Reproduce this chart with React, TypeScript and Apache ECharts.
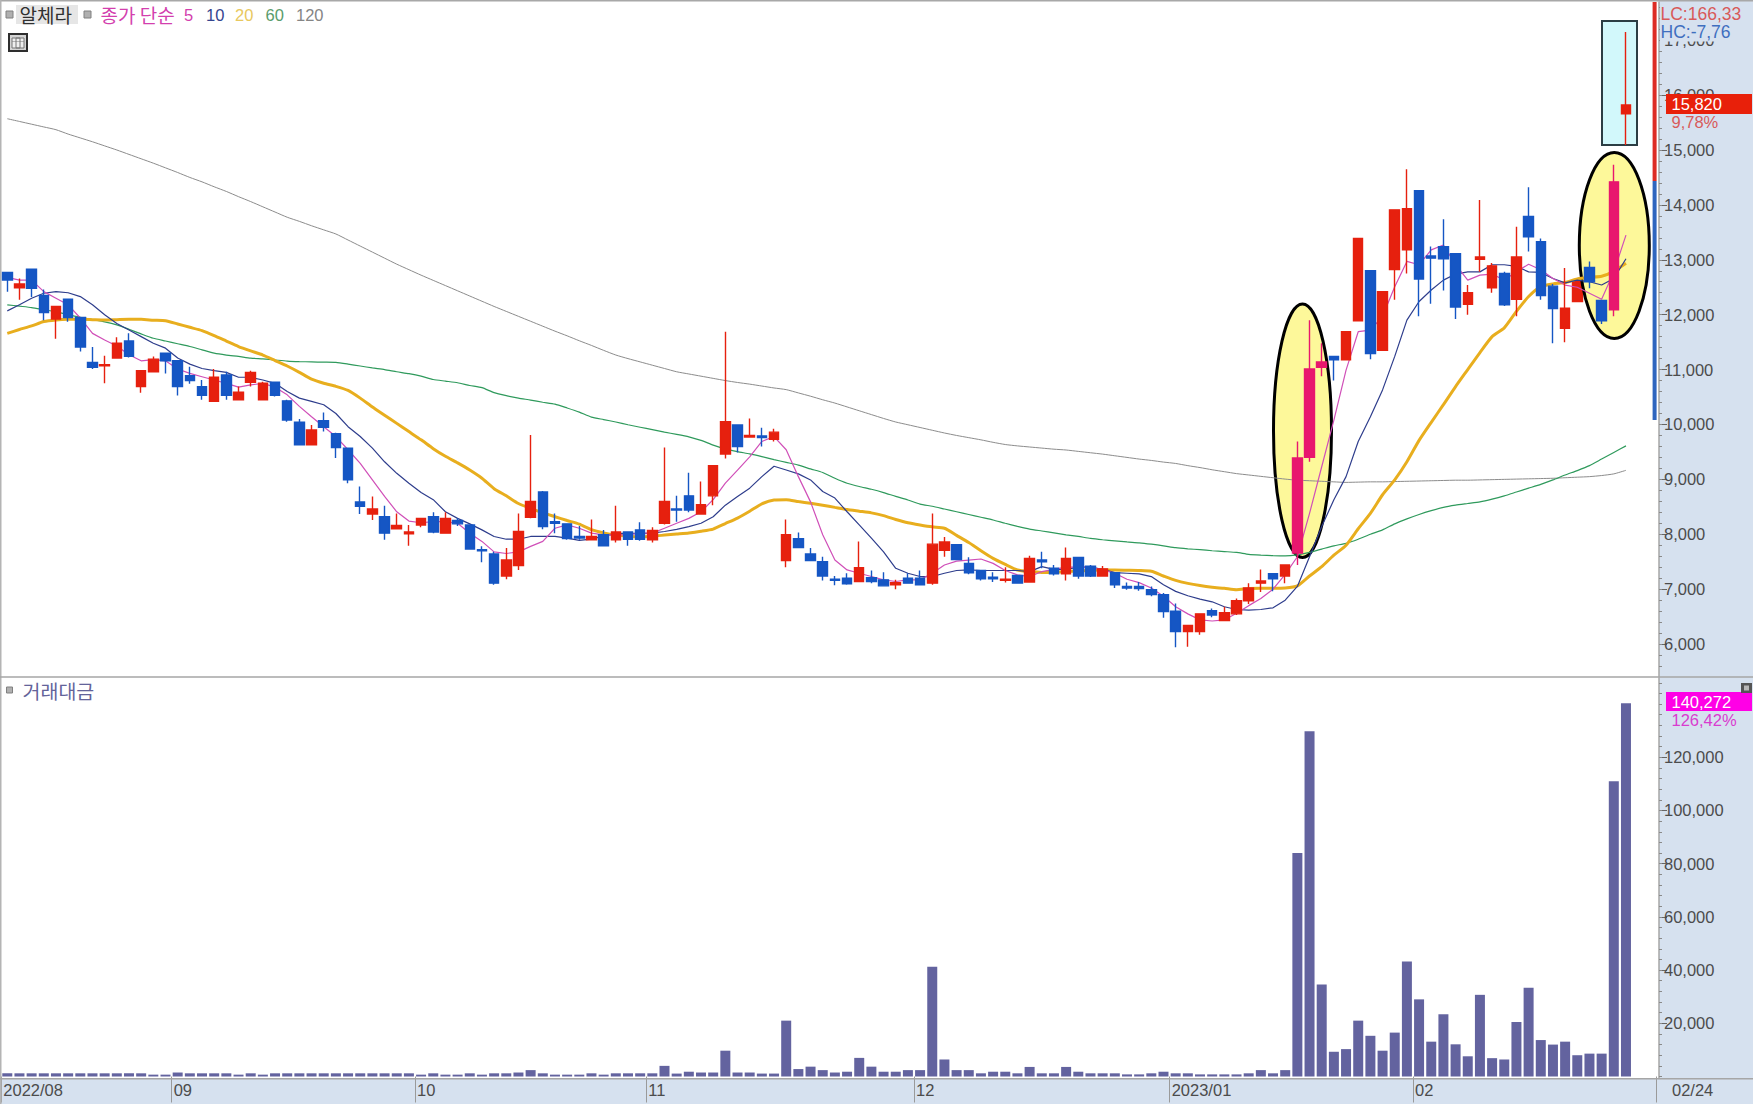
import React, { useEffect, useRef } from "react";
import * as echarts from "echarts";

const ohlc: number[][] = [
[12770,12630,12420,12770],[12490,12560,12270,12660],[12830,12480,12320,12830],[12350,12040,11900,12460],[11920,12150,11560,12150],
[12280,11950,11870,12280],[11950,11410,11330,11950],[11130,11040,11010,11410],[11070,11090,10750,11250],[11210,11480,11210,11590],
[11520,11240,11220,11660],[10690,10980,10580,10980],[10960,11190,10960,11240],[11300,11160,10930,11300],[11160,10690,10530,11160],
[10890,10800,10740,11050],[10690,10530,10450,10810],[10420,10860,10420,11010],[10900,10530,10450,10960],[10450,10590,10450,10690],
[10770,10950,10690,10980],[10450,10750,10450,10780],[10770,10530,10510,10780],[10430,10080,10050,10450],[10040,9630,9630,10100],
[9630,9900,9630,9990],[10070,9950,9870,10220],[9830,9580,9390,9850],[9570,8990,8930,9570],[8590,8510,8370,8870],
[8370,8460,8260,8690],[8320,8020,7900,8520],[8100,8160,8090,8380],[8010,8040,7790,8170],[8170,8290,8130,8290],
[8320,8040,8020,8400],[8020,8290,8020,8400],[8250,8190,8150,8290],[8170,7730,7720,8170],[7720,7700,7490,7780],
[7640,7110,7080,7680],[7240,7530,7180,7750],[7430,8050,7350,8380],[8310,8600,8290,9810],[8770,8140,8090,8790],
[8230,8200,8020,8380],[8190,7920,7900,8190],[7960,7930,7900,8150],[7900,7960,7900,8270],[7990,7790,7780,8080],
[7900,8040,7850,8520],[8040,7910,7790,8040],[8080,7910,7880,8220],[7900,8070,7850,8130],[8200,8600,8180,9580],
[8460,8440,8230,8700],[8700,8440,8400,9120],[8370,8540,8370,8960],[8700,9250,8530,9250],[9460,10050,9380,11690],
[9990,9600,9490,9990],[9770,9800,9770,10110],[9790,9760,9600,9940],[9730,9860,9690,9920],[7520,7990,7400,8270],
[7920,7760,7760,8030],[7640,7520,7520,7750],[7500,7240,7160,7590],[7180,7160,7070,7240],[7200,7100,7080,7290],
[7140,7390,7140,7870],[7210,7140,7110,7340],[7170,7060,7050,7310],[7080,7120,7000,7170],[7200,7110,7100,7290],
[7200,7080,7070,7340],[7110,7820,7080,8380],[7710,7860,7590,7950],[7810,7540,7540,7810],[7470,7300,7270,7580],
[7340,7190,7160,7340],[7220,7190,7130,7310],[7160,7180,7120,7400],[7250,7110,7110,7250],[7130,7560,7120,7610],
[7530,7500,7380,7680],[7380,7280,7250,7440],[7280,7560,7160,7760],[7580,7240,7190,7580],[7420,7240,7220,7440],
[7240,7370,7240,7420],[7300,7080,7020,7300],[7050,7020,6990,7120],[7050,7010,6970,7130],[6990,6900,6870,7050],
[6900,6590,6480,6930],[6600,6230,5940,6740],[6230,6340,5950,6340],[6230,6550,6170,6550],[6610,6530,6490,6650],
[6430,6570,6430,6680],[6550,6790,6530,6830],[6790,7020,6730,7110],[7110,7150,6950,7360],[7280,7190,6960,7280],
[7240,7440,7110,7440],[7660,9390,7440,9690],[9400,11010,9320,11900],[11040,11140,10880,11480],[11240,11180,10800,11240],
[11180,11690,11180,11690],[11890,13390,11890,13390],[12800,11290,11190,12800],[11350,12420,11350,12420],[12820,13910,12270,13910],
[13180,13930,12750,14650],[14260,12650,11970,14260],[13070,13030,12200,13240],[13240,13020,12440,13740],[13110,12140,11920,13110],
[12190,12400,12000,12540],[13010,13050,12780,14090],[12490,12890,12400,12940],[12750,12180,12160,12780],[12280,13050,11970,13600],
[13790,13420,13150,14320],[13330,12350,12270,13390],[12520,12110,11480,12560],[11750,12120,11500,12850],[12240,12600,12240,12600],
[12860,12600,12480,12970],[12260,11890,11830,12270],[12090,14420,11970,14730],[15660,15820,15090,17150],
];

const ma5 = [
12680,12630,12630,12420,12300,12180,11940,11660,11540,11430,
11270,11160,11180,11160,11010,10930,10870,10810,10750,10680,
10720,10750,10680,10540,10330,10140,9960,9780,9540,9290,
8990,8690,8410,8240,8210,8230,8230,8200,8020,7870,
7680,7650,7680,7780,7870,8110,8170,8110,8020,7990,
7990,7990,8020,8020,8110,8200,8290,8410,8630,8930,
9170,9410,9690,9780,9540,9050,8590,7990,7530,7350,
7290,7230,7170,7140,7170,7170,7290,7440,7510,7530,
7550,7470,7340,7260,7230,7320,7360,7400,7400,7400,
7350,7290,7180,7120,7020,6870,6680,6550,6440,6420,
6440,6560,6700,6830,7000,7270,7590,8380,9230,10080,
10990,11690,11720,11970,12510,12970,12910,13180,13270,12910,
12630,12720,12740,12630,12780,12920,12820,12660,12540,12500,
12390,12280,12780,13450,
];
const ma10 = [
12070,12180,12300,12390,12420,12400,12330,12180,12000,11840,
11720,11600,11480,11390,11210,11100,11020,10980,10950,10860,
10860,10810,10750,10600,10480,10420,10360,10200,9960,9780,
9570,9320,9110,8930,8760,8630,8410,8290,8190,8080,
7960,7910,7910,7960,7960,7960,7930,7890,7910,7970,
8010,8020,8010,8020,8050,8090,8140,8200,8320,8530,
8690,8840,9050,9240,9170,9100,8990,8780,8660,8410,
8170,7930,7680,7380,7290,7230,7230,7290,7340,7350,
7340,7340,7340,7340,7320,7410,7360,7360,7400,7400,
7360,7300,7290,7280,7230,7080,6960,6880,6820,6770,
6680,6630,6620,6630,6660,6800,7050,7590,8140,8630,
9050,9690,10140,10630,11240,11900,12240,12450,12630,12740,
12780,12780,12910,12910,12880,12780,12770,12660,12580,12630,
12600,12540,12660,13020,
];
const ma20 = [
11660,11730,11795,11875,11905,11915,11915,11910,11905,11910,
11915,11915,11900,11890,11830,11770,11710,11620,11520,11420,
11340,11265,11165,11065,10950,10825,10750,10695,10620,10480,
10320,10170,10020,9870,9720,9560,9420,9300,9170,9020,
8830,8700,8560,8470,8390,8320,8250,8185,8085,8025,
7985,7965,7955,7965,7985,8005,8025,8055,8095,8195,
8295,8420,8555,8625,8630,8595,8565,8530,8490,8450,
8420,8390,8340,8270,8210,8170,8135,8110,7980,7850,
7700,7560,7450,7350,7320,7305,7310,7320,7330,7345,
7350,7350,7345,7340,7325,7240,7160,7105,7065,7035,
7015,6990,7010,7015,7015,7020,7060,7240,7410,7620,
7800,8100,8380,8720,8990,9320,9710,10040,10360,10690,
11000,11310,11600,11760,12060,12330,12510,12560,12585,12650,
12680,12700,12790,12935,
];
const ma60 = [
12180,12155,12130,12090,12050,12000,11950,11910,11870,11815,
11735,11650,11570,11520,11470,11420,11360,11300,11265,11240,
11210,11195,11175,11155,11145,11140,11135,11130,11100,11065,
11030,11000,10960,10925,10880,10820,10790,10760,10710,10670,
10580,10525,10480,10445,10405,10370,10300,10225,10135,10090,
10045,9995,9950,9905,9860,9820,9775,9710,9625,9555,
9505,9465,9415,9360,9310,9260,9190,9125,9020,8930,
8870,8820,8760,8690,8625,8550,8510,8460,8410,8360,
8310,8260,8200,8145,8095,8060,8025,7990,7960,7925,
7900,7880,7860,7845,7820,7790,7755,7735,7720,7700,
7685,7670,7635,7620,7610,7605,7625,7670,7730,7790,
7835,7910,8000,8080,8190,8280,8360,8430,8490,8530,
8560,8590,8640,8700,8770,8840,8910,8990,9080,9160,
9250,9370,9490,9610,
];
const ma120 = [
15570,15520,15470,15420,15370,15290,15220,15150,15075,15000,
14920,14840,14760,14675,14590,14500,14420,14330,14245,14150,
14060,13965,13870,13775,13700,13620,13545,13470,13360,13250,
13140,13030,12920,12820,12720,12625,12530,12435,12340,12245,
12150,12060,11970,11880,11790,11700,11615,11525,11440,11350,
11265,11200,11140,11080,11020,10960,10920,10880,10840,10800,
10765,10735,10700,10665,10635,10575,10515,10450,10390,10320,
10250,10180,10110,10045,9995,9945,9895,9845,9800,9760,
9720,9675,9635,9610,9590,9570,9550,9535,9510,9485,
9460,9430,9400,9370,9345,9315,9290,9250,9215,9175,
9140,9105,9080,9055,9030,9005,8985,8975,8965,8955,
8945,8950,8955,8955,8960,8965,8970,8975,8980,8985,
8985,8990,8995,9000,9005,9010,9015,9020,9030,9040,
9050,9070,9100,9165,
];
const turnover = [
1200,1200,1200,1200,1200,1200,1200,1200,1200,1200,
1200,1200,700,700,1500,1200,1200,1200,1200,700,
1200,700,1200,1200,1200,1200,1200,1200,1200,1200,
1200,1200,1200,1200,700,1200,700,700,1200,700,
1200,1200,1500,2400,1200,700,700,700,1200,700,
1200,1200,1200,1200,4000,1100,1800,1500,1500,9700,
1500,1500,1100,1100,21000,2800,3700,2400,1500,1800,
7000,3700,1800,1800,2400,2400,41300,6400,2400,2400,
1200,1800,1800,1200,3600,1200,1200,3600,1800,1200,
1200,1200,800,800,1200,1800,1200,1200,800,800,
800,800,1200,2400,1200,2400,84000,129800,34600,9300,
10300,21000,15300,9700,16500,43200,29000,13100,23400,12100,
7600,30700,6900,6400,20500,33400,13700,12000,13100,8000,
8600,8600,111000,140272,
];

const monthLabels = ["2022/08", "09", "10", "11", "12", "2023/01", "02"];
const monthStart = [0, 14, 34, 53, 75, 96, 116];
const pinkCandles = [106, 107, 108, 132];
const underEllipseCandles = [129];
const priceTicks = [6000, 7000, 8000, 9000, 10000, 11000, 12000, 13000, 14000, 15000, 16000, 17000];
const turnoverTicks = [20000, 40000, 60000, 80000, 100000, 120000];

const SLOTS = 136;
const range = (a: number, b: number, s: number) => {
  const out: number[] = [];
  for (let v = a; v <= b; v += s) out.push(v);
  return out;
};
const fmt = (v: number) => Number(v).toLocaleString("en-US");
const NUM = "'Liberation Sans',sans-serif";
const KR = "'Noto Sans CJK KR',sans-serif";
const RED = "#e6200e";
const BLUE = "#1556c4";
const PINK = "#e8176e";
const BAND = "#d6e1ef";
const LINE = "#a6a6a6";

const txt = (text: string, x: number, y: number, fill: string, font: string, z = 20, align = "left") => ({
  type: "text",
  x,
  y,
  z,
  silent: true,
  style: { text, fill, font, textAlign: align, textVerticalAlign: "middle" },
});
const box = (x: number, y: number, width: number, height: number, fill: string, z = 20, stroke?: string, lineWidth = 0) => ({
  type: "rect",
  z,
  silent: true,
  shape: { x, y, width, height },
  style: { fill, stroke, lineWidth },
});
const ellipse = (cx: number, cy: number, rx: number, ry: number) => ({
  type: "ellipse",
  z: 2,
  silent: true,
  shape: { cx, cy, rx, ry },
  style: { fill: "#fdf89a", stroke: "#000", lineWidth: 3 },
});

export default function App() {
  const ref = useRef<HTMLDivElement>(null);
  useEffect(() => {
    document.body.style.margin = "0";
    const chart = echarts.init(ref.current!, undefined, { renderer: "svg" });
    const cats = Array.from({ length: SLOTS }, (_, i) => String(i));
    const mainData: any[] = ohlc.map((r, i) =>
      underEllipseCandles.includes(i)
        ? "-"
        : pinkCandles.includes(i)
        ? { value: r, itemStyle: { color: PINK, color0: PINK, borderColor: PINK, borderColor0: PINK } }
        : r
    );
    const underData: any[] = ohlc.map((r, i) => (underEllipseCandles.includes(i) ? r : "-"));
    const candleStyle = { color: RED, color0: BLUE, borderColor: RED, borderColor0: BLUE, borderWidth: 1.4 };
    const ma = (name: string, data: number[], color: string, width: number, smooth: number) => ({
      name,
      type: "line",
      data,
      xAxisIndex: 0,
      yAxisIndex: 0,
      z: 3,
      symbol: "none",
      smooth,
      lineStyle: { color, width },
    });
    const hiddenCat = {
      type: "category",
      data: cats,
      boundaryGap: true,
      axisLine: { show: false },
      axisTick: { show: false },
      axisLabel: { show: false },
      splitLine: { show: false },
    };
    const labelStyle = { color: "#4c4c4c", fontFamily: NUM, fontSize: 16.5, margin: 5, padding: [0, 0, 6, 0] };
    const minor = { show: true, length: 3, lineStyle: { color: "#8a8a8a" } };
    const major = { show: true, length: 8, lineStyle: { color: "#666" } };
    chart.setOption({
      animation: false,
      backgroundColor: "#fff",
      grid: [
        { left: 1.2, top: 2, width: 1655.2, height: 675 },
        { left: 1.2, top: 678, width: 1655.2, height: 400.5 },
      ],
      xAxis: [
        { ...hiddenCat, gridIndex: 0 },
        {
          ...hiddenCat,
          gridIndex: 1,
          axisLabel: {
            show: true,
            interval: (i: number) => monthStart.includes(i),
            formatter: (_: string, i: number) => monthLabels[monthStart.indexOf(i)] ?? "",
            color: "#4c4c4c",
            fontFamily: NUM,
            fontSize: 16.5,
            align: "left",
            margin: 3,
            padding: [0, 0, 0, -4],
          },
          axisTick: {
            show: true,
            length: 26,
            interval: (i: number) => monthStart.includes(i),
            lineStyle: { color: "#9a9a9a" },
          },
        },
      ],
      yAxis: [
        {
          type: "value",
          gridIndex: 0,
          position: "right",
          offset: 2.6,
          min: 5400,
          max: 17696,
          axisLine: { show: true, onZero: false, lineStyle: { color: LINE, width: 1.5 } },
          axisTick: { ...major, customValues: priceTicks },
          axisLabel: { ...labelStyle, customValues: priceTicks, formatter: fmt },
          splitLine: { show: false },
        },
        {
          type: "value",
          gridIndex: 0,
          position: "right",
          offset: 2.6,
          min: 5400,
          max: 17696,
          axisLine: { show: false },
          axisTick: { ...minor, customValues: range(5600, 17600, 200) },
          axisLabel: { show: false },
          splitLine: { show: false },
        },
        {
          type: "value",
          gridIndex: 1,
          position: "right",
          offset: 2.6,
          min: -750,
          max: 149800,
          axisLine: { show: true, onZero: false, lineStyle: { color: LINE, width: 1.5 } },
          axisTick: { ...major, customValues: turnoverTicks },
          axisLabel: { ...labelStyle, customValues: turnoverTicks, formatter: fmt },
          splitLine: { show: false },
        },
        {
          type: "value",
          gridIndex: 1,
          position: "right",
          offset: 2.6,
          min: -750,
          max: 149800,
          axisLine: { show: false },
          axisTick: { ...minor, customValues: range(0, 148000, 4000) },
          axisLabel: { show: false },
          splitLine: { show: false },
        },
      ],
      series: [
        { name: "under", type: "candlestick", z: 1, data: underData, barWidth: 10, itemStyle: candleStyle, xAxisIndex: 0, yAxisIndex: 0 },
        ma("120", ma120, "#8c8c8c", 1, 0.2),
        ma("60", ma60, "#2f9a5c", 1.2, 0.2),
        ma("20", ma20, "#e8ae1e", 3, 0.2),
        ma("10", ma10, "#2e3d8c", 1.2, 0),
        ma("5", ma5, "#d04fb8", 1.2, 0),
        { name: "price", type: "candlestick", z: 4, data: mainData, barWidth: 10, itemStyle: candleStyle, xAxisIndex: 0, yAxisIndex: 0 },
        {
          name: "거래대금",
          type: "bar",
          data: turnover,
          xAxisIndex: 1,
          yAxisIndex: 2,
          barWidth: 10,
          itemStyle: { color: "#63639f" },
        },
      ],
      graphic: {
        elements: [
          box(1659, 0, 94, 1104, BAND, -1),
          box(0, 1079, 1753, 25, BAND, -1),
          box(0, 0, 1753, 1.5, "#a8a8a8", 1),
          box(0, 0, 1.5, 1104, "#b4b4b4", 1),
          box(0, 676.2, 1753, 1.6, LINE, 1),
          box(0, 1078, 1753, 1.6, LINE, 1),
          box(1602, 21, 35, 124, "#d2f8fb", 2, "#2c3e44", 2),
          ellipse(1302.5, 430.7, 29, 126.7),
          ellipse(1614.3, 245.5, 35, 93),
          box(1652.6, 2, 4, 179, "#dd2c24", 5),
          box(1652.6, 181, 4, 239, "#2f66bf", 5),
          // top-right readouts
          box(1660, 2, 93, 39.5, BAND, 20),
          txt("LC:166,33", 1660.5, 14, "#d85a5a", `17.5px ${NUM}`, 21),
          txt("HC:-7,76", 1660.5, 32, "#3f6fbf", `17.5px ${NUM}`, 21),
          box(1666, 94, 86, 20, "#e8200a", 20),
          txt("15,820", 1671.5, 104, "#ffffff", `16.5px ${NUM}`, 21),
          txt("9,78%", 1671.5, 122, "#d85a5a", `16.5px ${NUM}`, 21),
          box(1666, 692, 86, 19, "#ff00e6", 20),
          txt("140,272", 1671.5, 701.5, "#ffffff", `16.5px ${NUM}`, 21),
          txt("126,42%", 1671.5, 719.5, "#d93cd0", `16.5px ${NUM}`, 21),
          box(1741, 683, 11, 10, "#555", 20),
          box(1744, 685.5, 5, 5, "#b8b8b8", 21),
          txt("02/24", 1672, 1090, "#4c4c4c", `16.5px ${NUM}`, 21),
          // legend
          box(6, 11, 7, 7, "#b0b0b0", 20, "#808080", 1),
          box(16, 5, 62, 19, "#e6e6e6", 20),
          txt("알체라", 19.5, 14.5, "#303030", `19px ${KR}`, 21),
          box(84, 11, 7, 7, "#b0b0b0", 20, "#808080", 1),
          txt("종가 단순", 100.5, 14.5, "#d33fae", `19px ${KR}`, 21),
          txt("5", 184, 14.5, "#d33fae", `16.5px ${NUM}`, 21),
          txt("10", 206, 14.5, "#35458f", `16.5px ${NUM}`, 21),
          txt("20", 235, 14.5, "#e8c860", `16.5px ${NUM}`, 21),
          txt("60", 265.5, 14.5, "#5a9c6c", `16.5px ${NUM}`, 21),
          txt("120", 296, 14.5, "#858585", `16.5px ${NUM}`, 21),
          box(9, 34, 18, 17, "#d4d4d4", 20, "#2e2e2e", 2),
          box(12, 38, 12, 10, "#efefef", 21, "#777", 1),
          box(16, 38, 4, 10, "none", 22, "#777", 1),
          box(12, 41, 12, 0.5, "#777", 22),
          // lower panel title
          box(6.5, 687, 6, 6, "#b0b0b0", 20, "#808080", 1),
          txt("거래대금", 22.5, 690, "#63639a", `19.5px ${KR}`, 21),
        ],
      },
    });
    return () => chart.dispose();
  }, []);
  return <div ref={ref} style={{ position: "fixed", left: 0, top: 0, width: 1753, height: 1104 }} />;
}
